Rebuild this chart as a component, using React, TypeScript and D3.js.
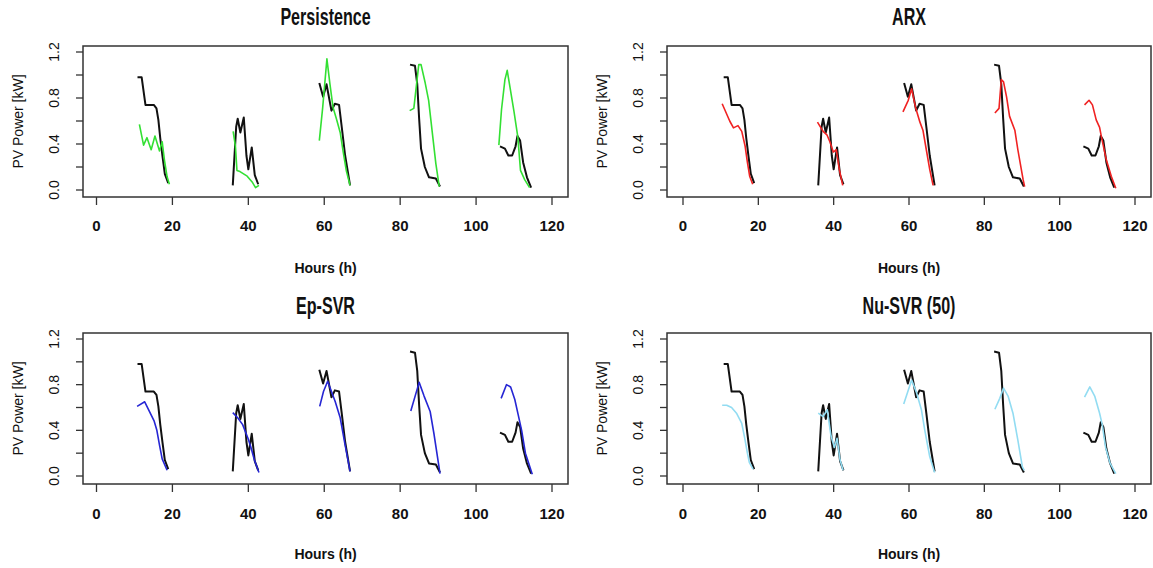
import React from "react";
import * as d3 from "d3";

type Pt = [number, number];

// Measured PV power (kW) vs hour, one array per day
const actualDay1: Pt[] = [[10.8,0.98],[11.9,0.98],[12.9,0.74],[15.1,0.74],[15.8,0.71],[16.3,0.61],[16.8,0.45],[17.4,0.29],[18.0,0.14],[18.9,0.06]];
const actualDay2: Pt[] = [[35.9,0.04],[36.8,0.55],[37.2,0.62],[37.9,0.50],[38.8,0.63],[39.5,0.30],[40.0,0.18],[40.9,0.37],[41.7,0.13],[42.6,0.05]];
const actualDay3: Pt[] = [[58.7,0.93],[59.7,0.81],[60.6,0.92],[61.9,0.69],[62.8,0.75],[63.9,0.74],[64.6,0.55],[65.5,0.30],[66.8,0.04]];
const actualDay4: Pt[] = [[82.6,1.09],[83.9,1.08],[84.5,0.92],[85.0,0.62],[85.5,0.36],[86.5,0.20],[87.6,0.11],[89.4,0.10],[90.5,0.03]];
const actualDay5: Pt[] = [[106.3,0.38],[107.6,0.36],[108.5,0.30],[109.5,0.30],[110.4,0.38],[110.9,0.47],[111.6,0.43],[112.4,0.24],[113.4,0.11],[114.5,0.02]];
const actualSeries: Pt[][] = [actualDay1, actualDay2, actualDay3, actualDay4, actualDay5];

// Persistence forecast
const persistenceSeries: Pt[][] = [
  [[11.3,0.57],[12.4,0.39],[13.3,0.455],[14.4,0.35],[15.4,0.47],[16.6,0.34],[17.3,0.42],[17.9,0.26],[18.6,0.115],[19.2,0.05]],
  [[36.0,0.51],[36.6,0.38],[37.0,0.17],[37.8,0.16],[39.7,0.12],[41.0,0.07],[41.9,0.02],[42.8,0.04]],
  [[58.7,0.43],[59.6,0.72],[60.7,1.14],[61.5,0.92],[62.3,0.72],[63.2,0.62],[64.2,0.50],[65.0,0.33],[65.8,0.17],[66.8,0.04]],
  [[82.5,0.69],[83.6,0.71],[84.9,1.09],[85.5,1.09],[86.6,0.93],[87.5,0.78],[88.6,0.46],[89.4,0.23],[90.3,0.03]],
  [[106.0,0.39],[106.7,0.70],[107.6,0.96],[108.2,1.04],[110.0,0.68],[111.0,0.46],[111.7,0.17],[112.8,0.09],[114.1,0.02]],
];

// ARX forecast
const arxSeries: Pt[][] = [
  [[10.4,0.75],[12.4,0.60],[13.4,0.54],[14.6,0.56],[15.6,0.51],[16.5,0.38],[17.1,0.24],[17.7,0.12],[18.5,0.05]],
  [[35.7,0.59],[37.2,0.51],[38.2,0.48],[39.0,0.42],[39.9,0.33],[40.7,0.35],[41.5,0.18],[42.4,0.04]],
  [[58.4,0.68],[59.8,0.78],[60.7,0.88],[61.8,0.71],[62.9,0.59],[63.7,0.52],[64.6,0.35],[65.5,0.18],[66.4,0.04]],
  [[82.8,0.67],[83.9,0.71],[84.5,0.96],[85.1,0.94],[85.9,0.81],[86.7,0.64],[88.1,0.52],[88.9,0.35],[90.3,0.09],[90.7,0.03]],
  [[106.6,0.74],[107.8,0.78],[108.7,0.74],[109.7,0.61],[110.6,0.545],[111.1,0.46],[112.4,0.26],[113.7,0.12],[114.9,0.015]],
];

// Epsilon-SVR forecast
const epSvrSeries: Pt[][] = [
  [[10.7,0.61],[12.7,0.65],[15.2,0.48],[15.9,0.40],[16.6,0.27],[17.3,0.15],[18.6,0.05]],
  [[35.9,0.555],[37.2,0.51],[38.5,0.45],[39.9,0.33],[40.6,0.26],[41.6,0.14],[42.8,0.03]],
  [[58.8,0.61],[59.8,0.74],[60.9,0.83],[62.9,0.65],[64.2,0.51],[65.5,0.27],[66.8,0.04]],
  [[82.8,0.57],[85.0,0.82],[86.3,0.70],[87.9,0.565],[88.9,0.37],[90.5,0.02]],
  [[106.6,0.68],[108.0,0.80],[109.1,0.78],[110.2,0.67],[111.1,0.535],[112.0,0.40],[113.0,0.20],[114.8,0.015]],
];

// Nu-SVR (50) forecast
const nuSvrSeries: Pt[][] = [
  [[10.4,0.62],[11.6,0.62],[12.9,0.60],[14.2,0.55],[15.6,0.46],[16.4,0.33],[17.1,0.20],[17.6,0.12],[18.6,0.06]],
  [[35.9,0.55],[37.2,0.52],[38.3,0.58],[39.3,0.35],[40.2,0.25],[40.9,0.33],[41.7,0.14],[42.5,0.05]],
  [[58.6,0.63],[60.7,0.84],[62.0,0.73],[63.3,0.58],[64.2,0.40],[65.5,0.17],[66.8,0.03]],
  [[82.8,0.585],[84.1,0.68],[85.1,0.77],[86.3,0.70],[87.6,0.55],[88.9,0.315],[90.1,0.08],[90.6,0.05]],
  [[106.6,0.69],[108.0,0.78],[109.3,0.70],[110.6,0.55],[111.3,0.45],[112.2,0.25],[113.4,0.11],[114.9,0.02]],
];

const xTicks = [0, 20, 40, 60, 80, 100, 120];
const yTicks = [0, 0.2, 0.4, 0.6, 0.8, 1.0, 1.2];
const yTickLabels = ["0.0", "", "0.4", "", "0.8", "", "1.2"];
const titles = ["Persistence", "ARX", "Ep-SVR", "Nu-SVR (50)"];
const forecasts = [persistenceSeries, arxSeries, epSvrSeries, nuSvrSeries];
const colors = ["#33e033", "#f02222", "#2626d4", "#92dcf2"];

const cols = [
  { left: 83, right: 568, x0: 96.5, x120: 552 },
  { left: 667, right: 1151, x0: 683, x120: 1135 },
];
const rows = [
  { top: 46, bottom: 197, y0: 190, y12: 52, title: 25, tick: 231, xlab: 273 },
  { top: 333, bottom: 484, y0: 476, y12: 339, title: 314, tick: 519, xlab: 559 },
];

function Panel({ idx }: { idx: number }) {
  const c = cols[idx % 2];
  const r = rows[Math.floor(idx / 2)];
  const x = d3.scaleLinear().domain([0, 120]).range([c.x0, c.x120]);
  const y = d3.scaleLinear().domain([0, 1.2]).range([r.y0, r.y12]);
  const line = d3
    .line<Pt>()
    .x((d) => x(d[0]))
    .y((d) => y(d[1]));
  const cx = (c.left + c.right) / 2;
  const cy = (r.top + r.bottom) / 2;
  return (
    <g>
      <text
        transform={`translate(${cx},${r.title}) scale(0.67,1)`}
        textAnchor="middle"
        fontFamily="'Liberation Sans', Arial, sans-serif"
        fontWeight="bold"
        fontSize={24}
        fill="#111"
      >
        {titles[idx]}
      </text>
      <rect
        x={c.left}
        y={r.top}
        width={c.right - c.left}
        height={r.bottom - r.top}
        fill="none"
        stroke="#333"
        strokeWidth={1.5}
      />
      {xTicks.map((t) => (
        <g key={"x" + t}>
          <line x1={x(t)} x2={x(t)} y1={r.bottom} y2={r.bottom + 8} stroke="#333" strokeWidth={1.3} />
          <text
            x={x(t)}
            y={r.tick}
            textAnchor="middle"
            fontFamily="'Liberation Sans', Arial, sans-serif"
            fontWeight="bold"
            fontSize={15}
            fill="#111"
          >
            {t}
          </text>
        </g>
      ))}
      {yTicks.map((t, i) => (
        <g key={"y" + t}>
          <line x1={c.left - 7} x2={c.left} y1={y(t)} y2={y(t)} stroke="#333" strokeWidth={1.3} />
          {yTickLabels[i] && (
            <text
              transform={`translate(${c.left - 24},${y(t)}) rotate(-90)`}
              textAnchor="middle"
              fontFamily="'Liberation Sans', Arial, sans-serif"
              fontSize={14}
              fill="#111"
            >
              {yTickLabels[i]}
            </text>
          )}
        </g>
      ))}
      <text
        transform={`translate(${c.left - 60},${cy}) rotate(-90)`}
        textAnchor="middle"
        fontFamily="'Liberation Sans', Arial, sans-serif"
        fontSize={14}
        fill="#111"
      >
        PV Power [kW]
      </text>
      <text
        x={cx}
        y={r.xlab}
        textAnchor="middle"
        fontFamily="'Liberation Sans', Arial, sans-serif"
        fontWeight="bold"
        fontSize={14}
        fill="#111"
      >
        Hours (h)
      </text>
      {actualSeries.map((seg, i) => (
        <path key={"a" + i} d={line(seg) || ""} fill="none" stroke="#111" strokeWidth={2} strokeLinejoin="round" />
      ))}
      {forecasts[idx].map((seg, i) => (
        <path key={"f" + i} d={line(seg) || ""} fill="none" stroke={colors[idx]} strokeWidth={1.6} strokeLinejoin="round" />
      ))}
    </g>
  );
}

export default function App() {
  return (
    <svg
      width={1153}
      height={568}
      style={{ position: "absolute", left: 0, top: 0, background: "#fff" }}
    >
      <rect x={0} y={0} width={1153} height={568} fill="#fff" />
      {[0, 1, 2, 3].map((i) => (
        <Panel key={i} idx={i} />
      ))}
    </svg>
  );
}
